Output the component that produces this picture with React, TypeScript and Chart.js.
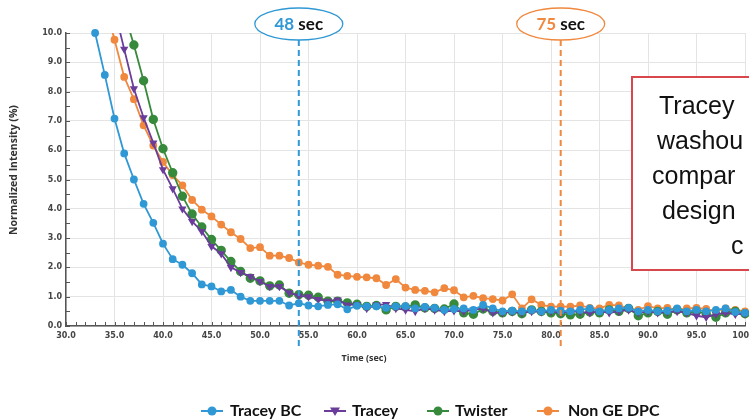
import React, { useEffect, useRef } from "react";
import { Chart, registerables } from "chart.js";

Chart.register(...registerables);

const timeSec = [33, 34, 35, 36, 37, 38, 39, 40, 41, 42, 43, 44, 45, 46, 47, 48, 49, 50, 51, 52, 53, 54, 55, 56, 57, 58, 59, 60, 61, 62, 63, 64, 65, 66, 67, 68, 69, 70, 71, 72, 73, 74, 75, 76, 77, 78, 79, 80, 81, 82, 83, 84, 85, 86, 87, 88, 89, 90, 91, 92, 93, 94, 95, 96, 97, 98, 99, 100];

const traceyBC = [10.0, 8.57, 7.08, 5.89, 5.0, 4.17, 3.52, 2.81, 2.28, 2.09, 1.8, 1.42, 1.35, 1.18, 1.23, 1.0, 0.86, 0.86, 0.86, 0.86, 0.7, 0.78, 0.7, 0.67, 0.72, 0.74, 0.57, 0.69, 0.67, 0.67, 0.62, 0.67, 0.68, 0.6, 0.65, 0.62, 0.55, 0.58, 0.6, 0.55, 0.72, 0.6, 0.5, 0.52, 0.5, 0.55, 0.5, 0.55, 0.52, 0.5, 0.55, 0.6, 0.5, 0.55, 0.6, 0.62, 0.5, 0.55, 0.5, 0.52, 0.6, 0.5, 0.55, 0.5, 0.55, 0.6, 0.48, 0.45];

const tracey = [null, null, 10.8, 9.45, 8.1, 7.11, 6.25, 5.34, 4.69, 4.0, 3.57, 3.23, 2.72, 2.47, 2.0, 1.83, 1.69, 1.52, 1.35, 1.35, 1.14, 1.03, 1.0, 0.91, 0.85, 0.89, 0.72, 0.74, 0.6, 0.72, 0.74, 0.6, 0.55, 0.5, 0.6, 0.55, 0.5, 0.52, 0.5, 0.55, 0.6, 0.45, 0.45, 0.48, 0.45, 0.5, 0.48, 0.5, 0.45, 0.5, 0.48, 0.45, 0.5, 0.45, 0.5, 0.55, 0.45, 0.5, 0.45, 0.48, 0.5, 0.45, 0.35, 0.3, 0.4, 0.45, 0.4, 0.42];

const twister = [null, null, null, 10.7, 9.59, 8.37, 7.05, 6.05, 5.23, 4.43, 3.82, 3.38, 2.95, 2.58, 2.2, 1.86, 1.63, 1.54, 1.37, 1.4, 1.12, 1.07, 1.05, 0.98, 0.85, 0.85, 0.79, 0.74, 0.67, 0.7, 0.55, 0.67, 0.65, 0.72, 0.62, 0.6, 0.58, 0.75, 0.45, 0.4, 0.58, 0.5, 0.45, 0.5, 0.42, 0.55, 0.5, 0.45, 0.42, 0.38, 0.4, 0.48, 0.45, 0.55, 0.5, 0.6, 0.35, 0.45, 0.5, 0.4, 0.55, 0.45, 0.5, 0.42, 0.3, 0.45, 0.5, 0.42];

const nonGeDpc = [null, 11.0, 9.77, 8.5, 7.74, 6.85, 6.16, 5.6, 5.15, 4.8, 4.3, 3.97, 3.74, 3.46, 3.2, 2.97, 2.66, 2.69, 2.4, 2.4, 2.32, 2.17, 2.09, 2.06, 2.02, 1.75, 1.71, 1.68, 1.66, 1.63, 1.4, 1.6, 1.31, 1.23, 1.2, 1.15, 1.29, 1.22, 0.98, 1.03, 0.95, 0.92, 0.87, 1.08, 0.6, 0.91, 0.72, 0.66, 0.66, 0.66, 0.7, 0.62, 0.6, 0.72, 0.7, 0.6, 0.55, 0.68, 0.6, 0.62, 0.55, 0.6, 0.62, 0.58, 0.5, 0.6, 0.55, 0.5];

const seriesNames = ["Tracey BC", "Tracey", "Twister", "Non GE DPC"];
const seriesColors = ["#2f98d5", "#6a3d9a", "#378a3c", "#f0883e"];

const markerTimes = [54, 81];
const markerLabels = ["48", "75"];
const markerColors = ["#2f98d5", "#f0883e"];

const boxLines = ["Tracey", "washou", "compar", "design", "c"];
const boxLineX = [659, 657, 652, 662, 731];

const xTitle = "Time (sec)";
const yTitle = "Normalized Intensity (%)";

const CANVAS_W = 830;
const CANVAS_H = 420;

function toPoints(vals: (number | null)[]) {
  const out: { x: number; y: number }[] = [];
  vals.forEach((v, i) => {
    if (v !== null && v !== undefined && i < timeSec.length) out.push({ x: timeSec[i], y: v });
  });
  return out;
}

function drawMarker(ctx: CanvasRenderingContext2D, style: string, x: number, y: number, r: number, color: string) {
  ctx.save();
  ctx.fillStyle = color;
  ctx.beginPath();
  if (style === "triangle") {
    ctx.moveTo(x - r, y - r * 0.7);
    ctx.lineTo(x + r, y - r * 0.7);
    ctx.lineTo(x, y + r);
    ctx.closePath();
  } else {
    ctx.arc(x, y, r, 0, Math.PI * 2);
  }
  ctx.fill();
  ctx.restore();
}

const overlayPlugin = {
  id: "overlay",
  afterDatasetsDraw(chart: any) {
    const ctx: CanvasRenderingContext2D = chart.ctx;
    const xs = chart.scales.x;
    const ys = chart.scales.y;
    const area = chart.chartArea;
    ctx.save();

    // minor ticks (inside)
    ctx.strokeStyle = "#555";
    ctx.lineWidth = 1;
    for (let v = 30; v <= 100; v += 1) {
      const px = Math.round(xs.getPixelForValue(v)) + 0.5;
      ctx.beginPath();
      ctx.moveTo(px, area.bottom);
      ctx.lineTo(px, area.bottom - 4);
      ctx.stroke();
    }
    for (let v = 0; v <= 10; v += 0.5) {
      const py = Math.round(ys.getPixelForValue(v)) + 0.5;
      ctx.beginPath();
      ctx.moveTo(area.left, py);
      ctx.lineTo(area.left + 4, py);
      ctx.stroke();
    }

    // dashed time markers with ellipse labels
    markerTimes.forEach((t, i) => {
      const px = xs.getPixelForValue(t);
      ctx.save();
      ctx.strokeStyle = markerColors[i];
      ctx.lineWidth = 2;
      ctx.setLineDash([6, 4]);
      ctx.beginPath();
      ctx.moveTo(px, 40);
      ctx.lineTo(px, 348);
      ctx.stroke();
      ctx.restore();

      ctx.save();
      ctx.strokeStyle = markerColors[i];
      ctx.lineWidth = 1.3;
      ctx.fillStyle = "#fff";
      ctx.beginPath();
      ctx.ellipse(px, 24, 44, 16, 0, 0, Math.PI * 2);
      ctx.fill();
      ctx.stroke();
      ctx.font = "bold 17px Lato";
      ctx.textBaseline = "middle";
      const a = markerLabels[i];
      const b = " sec";
      const wa = ctx.measureText(a).width;
      const wb = ctx.measureText(b).width;
      const sx = px - (wa + wb) / 2;
      ctx.fillStyle = markerColors[i];
      ctx.fillText(a, sx, 25);
      ctx.fillStyle = "#111";
      ctx.fillText(b, sx + wa, 25);
      ctx.restore();
    });

    // text box
    ctx.save();
    ctx.fillStyle = "#fff";
    ctx.fillRect(632, 77, 300, 193);
    ctx.strokeStyle = "#d8474b";
    ctx.lineWidth = 2;
    ctx.strokeRect(632, 77, 300, 193);
    ctx.fillStyle = "#111";
    ctx.font = "25px 'Liberation Sans'";
    ctx.textBaseline = "alphabetic";
    boxLines.forEach((line, i) => {
      ctx.fillText(line, boxLineX[i], 114 + i * 35);
    });
    ctx.restore();

    // axis titles
    ctx.save();
    ctx.fillStyle = "#333";
    ctx.font = "bold 9px 'Open Sans'";
    ctx.textAlign = "center";
    ctx.textBaseline = "middle";
    ctx.fillText(xTitle, 364, 358);
    ctx.font = "bold 10.5px 'Open Sans'";
    ctx.translate(14, 170);
    ctx.rotate(-Math.PI / 2);
    ctx.fillText(yTitle, 0, 0);
    ctx.restore();

    // legend
    const legendMarkX = [212, 335, 438, 548];
    const legendTextX = [230, 352, 455, 568];
    const styles = ["circle", "triangle", "circle", "circle"];
    const ly = 411;
    ctx.save();
    seriesNames.forEach((name, i) => {
      const mx = legendMarkX[i];
      ctx.strokeStyle = seriesColors[i];
      ctx.lineWidth = 2;
      ctx.beginPath();
      ctx.moveTo(mx - 11, ly);
      ctx.lineTo(mx + 11, ly);
      ctx.stroke();
      drawMarker(ctx, styles[i], mx, ly, i === 1 ? 5 : 4.5, seriesColors[i]);
      ctx.fillStyle = "#111";
      ctx.font = "bold 16px Lato";
      ctx.textBaseline = "middle";
      ctx.fillText(name, legendTextX[i], ly);
    });
    ctx.restore();

    ctx.restore();
  },
};

export default function App() {
  const ref = useRef<HTMLCanvasElement | null>(null);

  useEffect(() => {
    if (!ref.current) return;
    const clipTopZero = { left: 6, right: 6, top: 0, bottom: 6 };
    const chart = new Chart(ref.current, {
      type: "line",
      data: {
        datasets: [
          {
            label: seriesNames[0],
            data: toPoints(traceyBC),
            borderColor: seriesColors[0],
            backgroundColor: seriesColors[0],
            borderWidth: 1.8,
            pointRadius: 3,
            pointStyle: "circle",
            clip: 6,
            order: 0,
          },
          {
            label: seriesNames[1],
            data: toPoints(tracey),
            borderColor: seriesColors[1],
            backgroundColor: seriesColors[1],
            borderWidth: 1.8,
            pointRadius: 3,
            pointStyle: "triangle",
            rotation: 180,
            clip: clipTopZero,
            order: 2,
          },
          {
            label: seriesNames[2],
            data: toPoints(twister),
            borderColor: seriesColors[2],
            backgroundColor: seriesColors[2],
            borderWidth: 1.8,
            pointRadius: 3.8,
            pointStyle: "circle",
            clip: clipTopZero,
            order: 3,
          },
          {
            label: seriesNames[3],
            data: toPoints(nonGeDpc),
            borderColor: seriesColors[3],
            backgroundColor: seriesColors[3],
            borderWidth: 1.8,
            pointRadius: 3,
            pointStyle: "circle",
            clip: clipTopZero,
            order: 4,
          },
        ] as any,
      },
      options: {
        animation: false,
        responsive: false,
        layout: { padding: { left: 0, top: 33, right: CANVAS_W - 745, bottom: 0 } },
        plugins: { legend: { display: false }, tooltip: { enabled: false } },
        elements: { line: { tension: 0 }, point: { borderWidth: 0 } },
        scales: {
          x: {
            type: "linear",
            min: 30,
            max: 100,
            afterFit: (s: any) => {
              s.height = CANVAS_H - 326;
            },
            ticks: {
              stepSize: 5,
              padding: 5,
              color: "#444",
              font: { family: "'DejaVu Sans'", weight: "bold", size: 8 },
              callback: (v: any) => Number(v).toFixed(1),
              maxRotation: 0,
              autoSkip: false,
            },
            grid: { color: "#e4e4e4", lineWidth: 1, drawTicks: false },
            border: { display: true, color: "#555", width: 1.5 },
          },
          y: {
            type: "linear",
            min: 0,
            max: 10,
            afterFit: (s: any) => {
              s.width = 66;
            },
            ticks: {
              stepSize: 1,
              padding: 4,
              color: "#444",
              font: { family: "'DejaVu Sans'", weight: "bold", size: 8 },
              callback: (v: any) => Number(v).toFixed(1),
            },
            grid: { color: "#e4e4e4", lineWidth: 1, drawTicks: false },
            border: { display: true, color: "#555", width: 1.5 },
          },
        },
      } as any,
      plugins: [overlayPlugin],
    });
    return () => chart.destroy();
  }, []);

  return (
    <div style={{ position: "fixed", left: 0, top: 0, width: 749, height: 420, overflow: "hidden", background: "#fff" }}>
      <canvas ref={ref} width={CANVAS_W} height={CANVAS_H} style={{ width: CANVAS_W, height: CANVAS_H, display: "block" }} />
    </div>
  );
}
